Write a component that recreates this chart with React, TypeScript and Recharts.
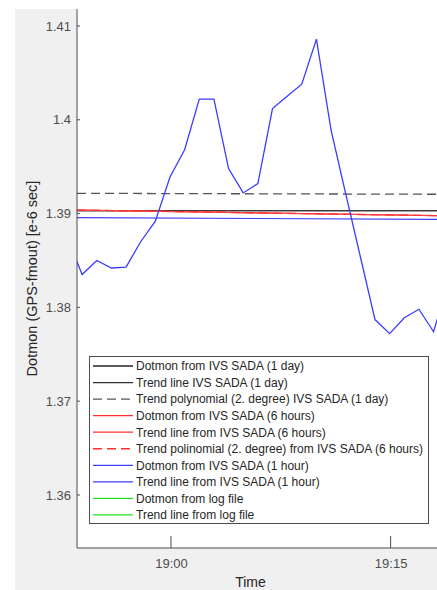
import React from 'react';
import { ComposedChart, Line, XAxis, YAxis, CartesianGrid, Legend, Label } from 'recharts';

// ---- data ----
const blueTimes = [
  '18:52:56', '18:53:56', '18:54:56', '18:55:56', '18:56:56', '18:57:56', '18:58:56',
  '18:59:56', '19:00:56', '19:01:56', '19:02:56', '19:03:56', '19:04:56', '19:05:56',
  '19:06:56', '19:07:56', '19:08:56', '19:09:56', '19:10:56', '19:11:56', '19:12:56',
  '19:13:56', '19:14:56', '19:15:56', '19:16:56', '19:17:56', '19:18:56',
];
const blueValues = [
  1.3874, 1.3835, 1.385, 1.3842, 1.3843, 1.387, 1.3892,
  1.3939, 1.3968, 1.4022, 1.4022, 1.3948, 1.3922, 1.3932,
  1.4012, 1.4025, 1.4038, 1.4086, 1.3989, 1.3921, 1.3854,
  1.3787, 1.3772, 1.3789, 1.3798, 1.3774, 1.3827,
];
const spanTimes = ['18:53:35', '19:18:10'];
const blackDayValues = [1.39031, 1.39031];
const blackTrendValues = [1.39031, 1.3903];
const grayPolyValues = [1.39216, 1.39206];
const redDotmonValues = [1.39038, 1.38978];
const redTrendValues = [1.39037, 1.38977];
const redPolyValues = [1.39038, 1.38978];
const blueTrendValues = [1.38956, 1.38939];

const xTickLabels = ['19:00', '19:15'];
const yTicks = [1.36, 1.37, 1.38, 1.39, 1.4, 1.41];

const legendLabels = [
  'Dotmon from IVS SADA (1 day)',
  'Trend line IVS SADA (1 day)',
  'Trend polynomial (2. degree) IVS SADA (1 day)',
  'Dotmon from IVS SADA (6 hours)',
  'Trend line from IVS SADA (6 hours)',
  'Trend polinomial (2. degree) from IVS SADA (6 hours)',
  'Dotmon from IVS SADA (1 hour)',
  'Trend line from IVS SADA (1 hour)',
  'Dotmon from log file',
  'Trend line from log file',
];
const legendColors = ['#262626', '#333333', '#555555', '#ff3030', '#ff3030', '#ff3030', '#3c3cff', '#3c3cff', '#22e022', '#22e022'];
const legendDashed = [false, false, true, false, false, true, false, false, false, false];

// ---- helpers ----
const toMin = (s: string) => {
  const [h, m, sec] = s.split(':').map(Number);
  return h * 60 + m + (sec || 0) / 60 - 19 * 60;
};
const fmtMin = (v: number) => {
  const total = Math.round(v) + 19 * 60;
  const h = Math.floor(total / 60);
  const m = total % 60;
  return `${h}:${m < 10 ? '0' : ''}${m}`;
};
const series = (times: string[], values: number[]) => times.map((t, i) => ({ t: toMin(t), v: values[i] }));

const blueData = series(blueTimes, blueValues);
const blackDay = series(spanTimes, blackDayValues);
const blackTrend = series(spanTimes, blackTrendValues);
const grayPoly = series(spanTimes, grayPolyValues);
const redDotmon = series(spanTimes, redDotmonValues);
const redTrend = series(spanTimes, redTrendValues);
const redPoly = series(spanTimes, redPolyValues);
const blueTrend = series(spanTimes, blueTrendValues);

const xDomain: [number, number] = [toMin(spanTimes[0]), toMin(spanTimes[1])];
const yDomain: [number, number] = [1.35435, 1.41181];
const xTicks = xTickLabels.map(toMin);

const FONT = '"Liberation Sans", Arial, Helvetica, sans-serif';
const AXIS = '#4d4d4d';
const TICKTXT = '#4d4d4d';

const YTick = (props: any) => {
  const { x, y, payload } = props;
  return (
    <g>
      <line x1={x + 6} x2={x + 9} y1={y} y2={y} stroke={AXIS} strokeWidth={1} />
      <text x={x} y={y} dy="0.36em" textAnchor="end" fontSize={13} fontFamily={FONT} fill={TICKTXT}>
        {String(payload.value)}
      </text>
    </g>
  );
};

const XTick = (props: any) => {
  const { x, y, payload } = props;
  return (
    <g>
      <line x1={x} x2={x} y1={y} y2={y - 12} stroke={AXIS} strokeWidth={1} />
      <text x={x + 0.5} y={y + 20} textAnchor="middle" fontSize={13} fontFamily={FONT} fill={TICKTXT}>
        {fmtMin(payload.value)}
      </text>
    </g>
  );
};

const renderLegend = () => (
  <div
    style={{
      width: 340,
      height: 168,
      border: `1px solid ${AXIS}`,
      background: '#fff',
      boxSizing: 'border-box',
    }}
  >
    <svg width={338} height={166} style={{ display: 'block' }}>
      {legendLabels.map((lab, i) => {
        const cy = 9 + i * 16.55;
        return (
          <g key={lab}>
            <line
              x1={3}
              x2={43}
              y1={cy}
              y2={cy}
              stroke={legendColors[i]}
              strokeWidth={1.3}
              strokeDasharray={legendDashed[i] ? '9 5' : undefined}
            />
            <text x={46} y={cy} dy="0.36em" fontSize={12} fontFamily={FONT} fill="#262626">
              {lab}
            </text>
          </g>
        );
      })}
    </svg>
  </div>
);

export default function App() {
  return (
    <div style={{ position: 'absolute', left: 0, top: 0, width: 437, height: 590, background: '#fff', overflow: 'hidden' }}>
      <div style={{ position: 'absolute', left: 15, top: 9, width: 422, height: 581, background: '#f0f0f0' }} />
      <div style={{ position: 'absolute', left: 0, top: 0 }}>
        <ComposedChart width={437} height={590} margin={{ top: 9, right: 0, bottom: 0, left: 15 }}>
          <CartesianGrid horizontal={false} vertical={false} fill="#ffffff" />
          <XAxis
            type="number"
            dataKey="t"
            domain={xDomain}
            allowDataOverflow
            ticks={xTicks}
            height={42}
            tickSize={0}
            tickMargin={0}
            tickLine={false}
            tick={<XTick />}
            axisLine={{ stroke: AXIS, strokeWidth: 1 }}
          >
            <Label
              content={() => (
                <text x={250.5} y={586.5} textAnchor="middle" fontSize={14} fontFamily={FONT} fill="#262626">
                  Time
                </text>
              )}
            />
          </XAxis>
          <YAxis
            type="number"
            domain={yDomain}
            allowDataOverflow
            ticks={yTicks}
            width={62}
            tickSize={0}
            tickMargin={6}
            tickLine={false}
            tick={<YTick />}
            axisLine={{ stroke: AXIS, strokeWidth: 1 }}
          >
            <Label
              content={() => (
                <text
                  x={37}
                  y={278.5}
                  transform="rotate(-90 37 278.5)"
                  textAnchor="middle"
                  fontSize={14.5}
                  fontFamily={FONT}
                  fill="#262626"
                >
                  Dotmon (GPS-fmout) [e-6 sec]
                </text>
              )}
            />
          </YAxis>
          <Legend
            verticalAlign="middle"
            align="center"
            content={renderLegend}
            wrapperStyle={{ left: 89, top: 356, width: 340, height: 168 }}
          />
          <Line data={blackDay} dataKey="v" stroke="#1a1a1a" strokeWidth={1.1} dot={false} isAnimationActive={false} />
          <Line data={blackTrend} dataKey="v" stroke="#333333" strokeWidth={1.1} dot={false} isAnimationActive={false} />
          <Line data={grayPoly} dataKey="v" stroke="#555555" strokeWidth={1.3} strokeDasharray="9 5" dot={false} isAnimationActive={false} />
          <Line data={redDotmon} dataKey="v" stroke="#ff3030" strokeWidth={1.2} dot={false} isAnimationActive={false} />
          <Line data={redTrend} dataKey="v" stroke="#ff4a4a" strokeWidth={1.2} dot={false} isAnimationActive={false} />
          <Line data={redPoly} dataKey="v" stroke="#ff3030" strokeWidth={1.2} strokeDasharray="9 5" dot={false} isAnimationActive={false} />
          <Line data={blueTrend} dataKey="v" stroke="#3c3cff" strokeWidth={1.2} dot={false} isAnimationActive={false} />
          <Line data={blueData} dataKey="v" stroke="#3c3cff" strokeWidth={1.3} dot={false} isAnimationActive={false} />
        </ComposedChart>
      </div>
    </div>
  );
}
